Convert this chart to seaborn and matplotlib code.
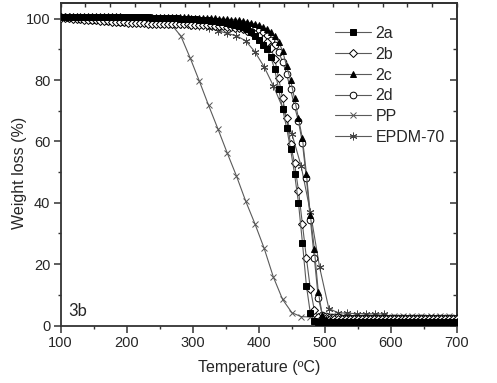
import numpy as np
import matplotlib
matplotlib.use("Agg")
import matplotlib.pyplot as plt
from matplotlib.ticker import MultipleLocator
import seaborn as sns

# temperature grid of the 2a-2d runs (degC), one reading every 6 degrees
temp = list(range(100, 701, 6))

w_2a = [100.6, 100.6, 100.6, 100.6, 100.6, 100.6, 100.6, 100.6, 100.6, 100.6,
        100.6, 100.6, 100.6, 100.6, 100.6, 100.6, 100.6, 100.5, 100.5, 100.5,
        100.4, 100.4, 100.4, 100.3, 100.3, 100.3, 100.2, 100.2, 100.1, 100.1,
        100.0, 100.0, 99.9, 99.8, 99.8, 99.7, 99.6, 99.5, 99.3, 99.1,
        98.9, 98.8, 98.6, 98.3, 98.0, 97.6, 97.2, 96.6, 95.8, 94.5,
        93.2, 91.5, 90.0, 87.5, 83.5, 77.0, 70.5, 64.5, 57.5, 49.5,
        40.0, 27.0, 13.0, 4.0, 1.5, 1.3, 1.3, 1.3, 1.2, 1.2,
        1.2, 1.2, 1.2, 1.2, 1.2, 1.2, 1.2, 1.2, 1.2, 1.2,
        1.2, 1.2, 1.2, 1.1, 1.1, 1.1, 1.1, 1.1, 1.1, 1.1,
        1.1, 1.1, 1.1, 1.1, 1.1, 1.1, 1.1, 1.1, 1.1, 1.1,
        1.1]
w_2b = [100.3, 100.2, 100.1, 100.0, 99.9, 99.8, 99.7, 99.6, 99.5, 99.4,
        99.3, 99.2, 99.1, 99.0, 98.9, 98.9, 98.8, 98.7, 98.7, 98.6,
        98.5, 98.5, 98.4, 98.4, 98.4, 98.3, 98.3, 98.3, 98.2, 98.2,
        98.1, 98.1, 98.1, 98.0, 98.0, 98.0, 97.9, 97.9, 97.8, 97.7,
        97.6, 97.5, 97.4, 97.2, 97.0, 96.8, 96.5, 96.1, 95.7, 95.0,
        94.3, 93.5, 92.4, 90.5, 87.0, 80.5, 74.0, 67.5, 59.0, 53.0,
        44.0, 33.0, 22.0, 12.0, 5.0, 2.8, 2.4, 2.3, 2.2, 2.2,
        2.2, 2.2, 2.2, 2.1, 2.1, 2.1, 2.1, 2.1, 2.1, 2.1,
        2.1, 2.1, 2.1, 2.1, 2.1, 2.1, 2.1, 2.1, 2.1, 2.1,
        2.1, 2.1, 2.1, 2.1, 2.1, 2.1, 2.1, 2.1, 2.1, 2.1,
        2.1]
w_2c = [100.7, 100.7, 100.7, 100.7, 100.7, 100.7, 100.7, 100.7, 100.7, 100.7,
        100.7, 100.7, 100.7, 100.7, 100.7, 100.7, 100.6, 100.6, 100.6, 100.6,
        100.6, 100.6, 100.6, 100.6, 100.5, 100.5, 100.5, 100.5, 100.5, 100.4,
        100.4, 100.4, 100.4, 100.3, 100.3, 100.3, 100.2, 100.2, 100.1, 100.1,
        100.0, 99.9, 99.8, 99.7, 99.6, 99.4, 99.2, 98.9, 98.6, 98.2,
        97.8, 97.2, 96.5, 95.5, 94.2, 92.4, 89.5, 84.5, 80.0, 74.0,
        67.5, 61.0, 49.5, 36.0, 25.0, 11.0, 3.5, 2.0, 1.7, 1.6,
        1.6, 1.6, 1.5, 1.5, 1.5, 1.5, 1.5, 1.5, 1.5, 1.5,
        1.5, 1.5, 1.5, 1.5, 1.5, 1.5, 1.5, 1.5, 1.5, 1.5,
        1.5, 1.5, 1.5, 1.5, 1.5, 1.5, 1.5, 1.5, 1.5, 1.5,
        1.5]
w_2d = [100.4, 100.4, 100.3, 100.2, 100.1, 100.0, 99.9, 99.8, 99.7, 99.6,
        99.5, 99.4, 99.3, 99.2, 99.1, 99.0, 99.0, 98.9, 98.9, 98.8,
        98.8, 98.8, 98.7, 98.7, 98.7, 98.6, 98.6, 98.6, 98.6, 98.5,
        98.5, 98.5, 98.5, 98.4, 98.4, 98.4, 98.3, 98.3, 98.2, 98.2,
        98.1, 98.0, 97.9, 97.8, 97.7, 97.5, 97.3, 97.1, 96.8, 96.4,
        95.9, 95.2, 94.3, 93.0, 91.3, 89.0, 86.0, 82.0, 77.0, 71.5,
        66.5, 59.5, 48.0, 34.5, 22.0, 9.0, 3.6, 3.0, 2.8, 2.7,
        2.7, 2.6, 2.6, 2.6, 2.6, 2.6, 2.6, 2.6, 2.6, 2.6,
        2.6, 2.6, 2.6, 2.6, 2.6, 2.6, 2.6, 2.6, 2.6, 2.6,
        2.6, 2.6, 2.6, 2.6, 2.6, 2.6, 2.6, 2.6, 2.6, 2.6,
        2.6]

# PP and EPDM-70 were sampled on a coarser grid
temp_pp = list(range(100, 689, 14))
w_pp = [100.4, 100.3, 100.1, 99.9, 99.6, 99.3, 99.1, 98.9, 98.7, 98.5,
        98.4, 98.2, 98.0, 94.3, 87.2, 79.6, 71.7, 64.1, 56.3, 48.8,
        40.6, 33.2, 25.2, 15.8, 8.5, 4.2, 2.9, 2.8, 2.8, 3.0,
        3.0, 3.1, 3.1, 3.1, 3.1, 3.1, 3.1, 3.1, 3.1, 3.1,
        3.1, 3.1, 3.1]
temp_epdm = list(range(100, 591, 14))
w_epdm = [100.5, 100.4, 100.3, 100.2, 100.0, 99.8, 99.6, 99.4, 99.2, 99.0,
          98.8, 98.6, 98.4, 98.2, 98.0, 97.7, 96.9, 96.1, 95.2, 94.4,
          92.8, 89.2, 84.3, 78.1, 71.0, 62.5, 52.0, 37.0, 19.0, 5.5,
          4.2, 4.0, 3.9, 3.9, 3.8, 3.8]

sns.set_style("ticks")
plt.rcParams["font.family"] = ["Liberation Sans", "DejaVu Sans"]
plt.rcParams["font.size"] = 10.5

fig = plt.figure(figsize=(4.97, 3.83), dpi=100)
ax = fig.add_axes([0.1221, 0.150, 0.7974, 0.8414])

line_kw = dict(color="#5a5a5a", linewidth=0.8, markeredgewidth=0.7)
series = [
    ("2a", temp, w_2a, dict(marker="s", markersize=4.2, markerfacecolor="black",
                            markeredgecolor="black"), 6),
    ("2b", temp, w_2b, dict(marker="D", markersize=4.2, markerfacecolor="white",
                            markeredgecolor="black"), 4),
    ("2c", temp, w_2c, dict(marker="^", markersize=4.8, markerfacecolor="black",
                            markeredgecolor="black"), 5),
    ("2d", temp, w_2d, dict(marker="o", markersize=4.8, markerfacecolor="white",
                            markeredgecolor="black"), 3),
    ("PP", temp_pp, w_pp, dict(marker="x", markersize=4.5, markeredgecolor="#555555"), 2),
    ("EPDM-70", temp_epdm, w_epdm, dict(marker=(6, 2, 0), markersize=5.5,
                                      markeredgecolor="#444444"), 2.5),
]
for name, x, y, mk, z in series:
    sns.lineplot(x=x, y=y, ax=ax, label=name, zorder=z, **line_kw, **mk)

ax.set_xlim(100, 700)
ax.set_ylim(0, 105)
ax.xaxis.set_major_locator(MultipleLocator(100))
ax.xaxis.set_minor_locator(MultipleLocator(50))
ax.yaxis.set_major_locator(MultipleLocator(20))
ax.yaxis.set_minor_locator(MultipleLocator(10))
ax.tick_params(which="major", direction="out", length=5, width=1.1, color="#333333", pad=2.5)
ax.tick_params(which="minor", direction="out", length=2.5, width=1.0, color="#333333")

top = ax.secondary_xaxis("top")
top.set_xticks(np.linspace(100, 700, 17))
top.tick_params(direction="in", length=3, width=1.0, labeltop=False, color="#333333")
right = ax.secondary_yaxis("right")
right.yaxis.set_major_locator(MultipleLocator(20))
right.yaxis.set_minor_locator(MultipleLocator(10))
right.tick_params(which="major", direction="in", length=5, width=1.1, labelright=False, color="#333333")
right.tick_params(which="minor", direction="in", length=3, width=1.0, color="#333333")

for axis in (ax, top, right):
    for sp in axis.spines.values():
        sp.set_linewidth(1.3)
        sp.set_color("#333333")

ax.set_xlabel("Temperature (ºC)", fontsize=11.5, labelpad=7)
ax.set_ylabel("Weight loss (%)", fontsize=11.5)
ax.yaxis.set_label_coords(-0.085, 0.473)

ax.legend(loc="upper left", bbox_to_anchor=(335 / 497, 1 - 26 / 383),
          bbox_transform=fig.transFigure, frameon=False, borderpad=0, fontsize=11.5,
          borderaxespad=0, handlelength=2.25, handletextpad=0.3, labelspacing=0.36)

fig.text(68 / 497, 1 - 316 / 383, "3b", family="Lato", fontsize=12, va="baseline")

fig.savefig("out.png", dpi=100)
